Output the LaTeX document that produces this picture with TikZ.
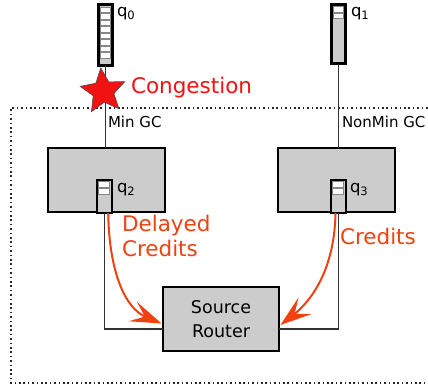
\documentclass[tikz,border=0pt]{standalone}
\usepackage{fontspec}
\setmainfont{DejaVu Sans}
\usetikzlibrary{arrows.meta,shapes.geometric}

\definecolor{boxgray}{RGB}{204,204,204}
\definecolor{creditred}{RGB}{238,66,16}
\definecolor{alarmred}{RGB}{242,18,18}
\definecolor{slotline}{RGB}{135,135,135}

\tikzset{
  router/.style={draw=black, line width=2pt, fill=boxgray, rectangle,
    inner sep=0pt, outer sep=0pt, minimum height=64pt},
  bigqueue/.style={draw=black, line width=3pt, fill=boxgray, rectangle,
    inner sep=0pt, outer sep=0pt},
  smallqueue/.style={draw=black, line width=1.8pt, fill=boxgray, rectangle,
    inner sep=0pt, outer sep=0pt, minimum width=15pt, minimum height=33pt},
  slot/.style={draw=slotline, line width=0.8pt, fill=white},
  wire/.style={draw=black!80, line width=1.1pt},
  credit/.style={draw=creditred, line width=2pt,
    -{Stealth[length=31pt, width=21pt, inset=13pt]}},
  frame/.style={draw=black!85, line width=1.6pt, dash pattern=on 1.6pt off 2.8pt},
  tag/.style={inner sep=0pt, outer sep=0pt, anchor=base west,
    font=\fontsize{15}{18}\selectfont},
  qtag/.style={inner sep=0pt, outer sep=0pt, anchor=base west,
    font=\fontsize{16.5}{18}\selectfont},
  redtag/.style={inner sep=0pt, outer sep=0pt, anchor=base west,
    font=\fontsize{21.5}{25.7}\selectfont, align=left},
}

\begin{document}
\begin{tikzpicture}[x=1pt, y=-1pt]
  \useasboundingbox (0,0) rectangle (428,387);

  % dotted enclosure of the router group (open to the right)
  \draw[frame] (432,108) -- (11,108) -- (11,383) -- (432,383);

  % routers
  \node[router, minimum width=117pt] (gcmin) at (106.2,179.7) {};
  \node[router, minimum width=116.7pt] (gcnon) at (336.7,179.7) {};
  \node[router, minimum width=116pt, align=center,
        font=\fontsize{17.5}{24}\selectfont] (src) at (221,319) {Source\\Router};

  % upstream queues q0 and q1
  \node[bigqueue, minimum width=14pt, minimum height=61pt] (q0) at (105.8,34.7) {};
  \foreach \k in {0,...,7}
    \draw[slot] (100.8,7.3+6.5*\k) rectangle (110.8,12.8+6.5*\k);
  \node[bigqueue, minimum width=13.7pt, minimum height=58.7pt] (q1) at (338.3,34.2) {};
  \foreach \k in {0,1}
    \draw[slot] (333.3,6.6+6.4*\k) rectangle (343.3,12.0+6.4*\k);

  % input queues q2 and q3 inside the routers
  \node[smallqueue] (q2) at (104.2,196.5) {};
  \node[smallqueue] (q3) at (338.3,196.5) {};
  \foreach \cx in {104.2,338.3}
    \foreach \k in {0,1}
      \draw[slot] (\cx-5.5,181.8+6.7*\k) rectangle (\cx+5.5,187.4+6.7*\k);

  % queue labels
  \node[qtag] (lq0) at (117,17) {q\textsubscript{0}};
  \node[qtag] (lq1) at (351,17) {q\textsubscript{1}};
  \node[qtag] (lq2) at (117,193) {q\textsubscript{2}};
  \node[qtag] (lq3) at (350,193) {q\textsubscript{3}};

  % links
  \draw[wire] (q0.south) -- (q0.south |- gcmin.north);
  \draw[wire] (q1.south) -- (q1.south |- gcnon.north);
  \draw[wire] (q2.south) |- ([yshift=-10pt]src.west);
  \draw[wire] (q3.south) |- ([yshift=-10pt]src.east);

  \node[tag] (lmin) at (108,128) {Min GC};
  \node[tag] (lnon) at (342,128) {NonMin GC};

  % congestion marker
  \node[star, star points=5, star point ratio=2.15, minimum size=47pt,
        inner sep=0pt, rotate=6, fill=alarmred, draw=black!70,
        line width=0.6pt] (jam) at (103.2,91.3) {};
  \node[redtag, text=alarmred] (lcong) at (131,94) {Congestion};

  % credit return paths
  \draw[credit] ([xshift=4pt]q2.south)
     .. controls +(1,60) and +(-36,-15) .. ([shift={(-1.5pt,-4.5pt)}]src.west);
  \draw[credit] ([xshift=-2.8pt]q3.south)
     .. controls +(-1,60) and +(28,-22) .. ([shift={(1.5pt,-6pt)}]src.east);

  % multi-line label: base anchor sits on its last line
  \node[redtag, text=creditred] (ldelay) at (122,257) {Delayed\\Credits};
  \node[redtag, text=creditred] (lcred) at (340,244) {Credits};
\end{tikzpicture}
\end{document}
